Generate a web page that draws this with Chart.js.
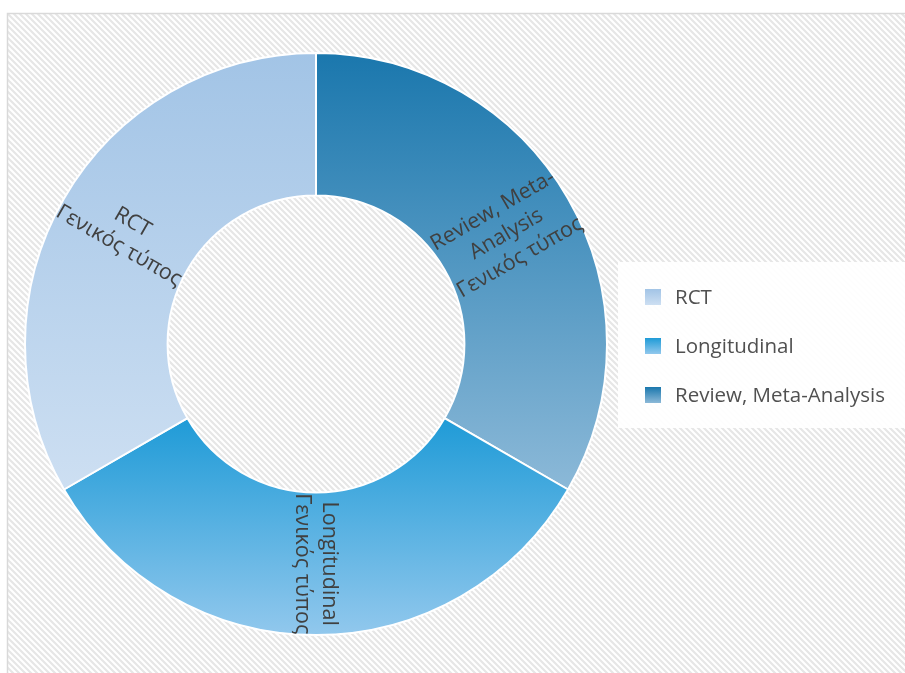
<!DOCTYPE html>
<html>
<head>
<meta charset="utf-8">
<script src="https://cdn.jsdelivr.net/npm/chart.js@4/dist/chart.umd.min.js"></script>
<style>
  html, body { margin: 0; padding: 0; background: #fff; }
  #wrap { width: 905px; height: 673px; position: relative; }
</style>
</head>
<body>
<div id="wrap"><canvas id="donut"></canvas></div>
<script>
// Data (legend order)
const categories = ['RCT', 'Longitudinal', 'Review, Meta-Analysis'];
const values = [1, 1, 1];
const sliceLabels = [
    ['RCT', 'Γενικός τύπος'],
    ['Longitudinal', 'Γενικός τύπος'],
    ['Review, Meta-', 'Analysis', 'Γενικός τύπος']
];

// gradient colours per category: [top, bottom]
const sliceColors = [
    ['#a2c4e6', '#cddff2'],
    ['#1f9bd7', '#92c8ed'],
    ['#1a77ad', '#8cb9d8']
];

const FONT = '"Open Sans", "Noto Sans", sans-serif';

// Chart.js draws clockwise from 12 o'clock, reference goes the other way round
const order = [2, 1, 0];

function hatchPattern(ctx) {
    const c = document.createElement('canvas');
    c.width = 6; c.height = 6;
    const p = c.getContext('2d');
    p.strokeStyle = '#e6e6e6';
    p.lineWidth = 2.2;
    p.beginPath();
    p.moveTo(-3, -3); p.lineTo(9, 9);
    p.moveTo(-3, 3); p.lineTo(3, 9);
    p.moveTo(3, -3); p.lineTo(9, 3);
    p.stroke();
    return ctx.createPattern(c, 'repeat');
}

function sliceGradient(ctx, area, idx) {
    const cx = (area.left + area.right) / 2;
    const cy = (area.top + area.bottom) / 2;
    const r = Math.min(area.right - area.left, area.bottom - area.top) / 2;
    let y0, y1;
    if (idx === 1) { y0 = cy + r * 0.51 * 0.5; y1 = cy + r; }
    else { y0 = cy - r; y1 = cy + r * 0.5; }
    const g = ctx.createLinearGradient(0, y0, 0, y1);
    g.addColorStop(0, sliceColors[idx][0]);
    g.addColorStop(1, sliceColors[idx][1]);
    return g;
}

const backgroundPlugin = {
    id: 'hatchBg',
    beforeDraw(chart) {
        const ctx = chart.ctx;
        ctx.save();
        ctx.fillStyle = '#ffffff';
        ctx.fillRect(0, 0, chart.width, chart.height);
        ctx.fillStyle = hatchPattern(ctx);
        ctx.fillRect(7, 13, chart.width - 7, chart.height - 13);
        ctx.strokeStyle = '#d9d9d9';
        ctx.lineWidth = 1.5;
        ctx.beginPath();
        ctx.moveTo(7.5, chart.height);
        ctx.lineTo(7.5, 13.5);
        ctx.lineTo(chart.width, 13.5);
        ctx.stroke();
        ctx.restore();
    }
};

const sliceLabelPlugin = {
    id: 'sliceLabels',
    afterDatasetsDraw(chart) {
        const ctx = chart.ctx;
        const meta = chart.getDatasetMeta(0);
        ctx.save();
        ctx.font = '21.5px ' + FONT;
        ctx.fillStyle = '#404040';
        ctx.textAlign = 'center';
        ctx.textBaseline = 'middle';
        meta.data.forEach((arc, i) => {
            const idx = order[i];
            const p = arc.getCenterPoint();
            let a = (arc.startAngle + arc.endAngle) / 2;
            while (a > Math.PI / 2) a -= Math.PI;
            while (a < -Math.PI / 2) a += Math.PI;
            const lines = sliceLabels[idx];
            const lh = 27;
            ctx.save();
            ctx.translate(p.x, p.y);
            ctx.rotate(a);
            lines.forEach((t, k) => {
                ctx.fillText(t, 0, (k - (lines.length - 1) / 2) * lh);
            });
            ctx.restore();
        });
        ctx.restore();
    }
};

const legendPlugin = {
    id: 'boxLegend',
    afterDraw(chart) {
        const ctx = chart.ctx;
        ctx.save();
        ctx.fillStyle = 'rgba(255,255,255,0.92)';
        ctx.fillRect(618, 262, chart.width - 618, 166);
        ctx.font = '20.5px ' + FONT;
        ctx.textBaseline = 'middle';
        categories.forEach((name, i) => {
            const y = 297 + i * 49;
            const g = ctx.createLinearGradient(0, y - 8, 0, y + 8);
            g.addColorStop(0, sliceColors[i][0]);
            g.addColorStop(1, sliceColors[i][1]);
            ctx.fillStyle = g;
            ctx.fillRect(645, y - 8, 16, 16);
            ctx.fillStyle = '#505050';
            ctx.fillText(name, 675, y + 1);
        });
        ctx.restore();
    }
};

new Chart(document.getElementById('donut'), {
    type: 'doughnut',
    data: {
        labels: order.map(i => categories[i]),
        datasets: [{
            data: order.map(i => values[i]),
            backgroundColor: function(context) {
                const area = context.chart.chartArea;
                if (!area) return sliceColors[order[context.dataIndex]][0];
                return sliceGradient(context.chart.ctx, area, order[context.dataIndex]);
            },
            borderColor: '#ffffff',
            borderWidth: 2
        }]
    },
    options: {
        responsive: true,
        maintainAspectRatio: false,
        animation: false,
        cutout: '51%',
        layout: {
            padding: { left: 24, right: 297, top: 52, bottom: 37 }
        },
        plugins: {
            legend: { display: false },
            tooltip: { enabled: false }
        }
    },
    plugins: [backgroundPlugin, sliceLabelPlugin, legendPlugin]
});
</script>
</body>
</html>
